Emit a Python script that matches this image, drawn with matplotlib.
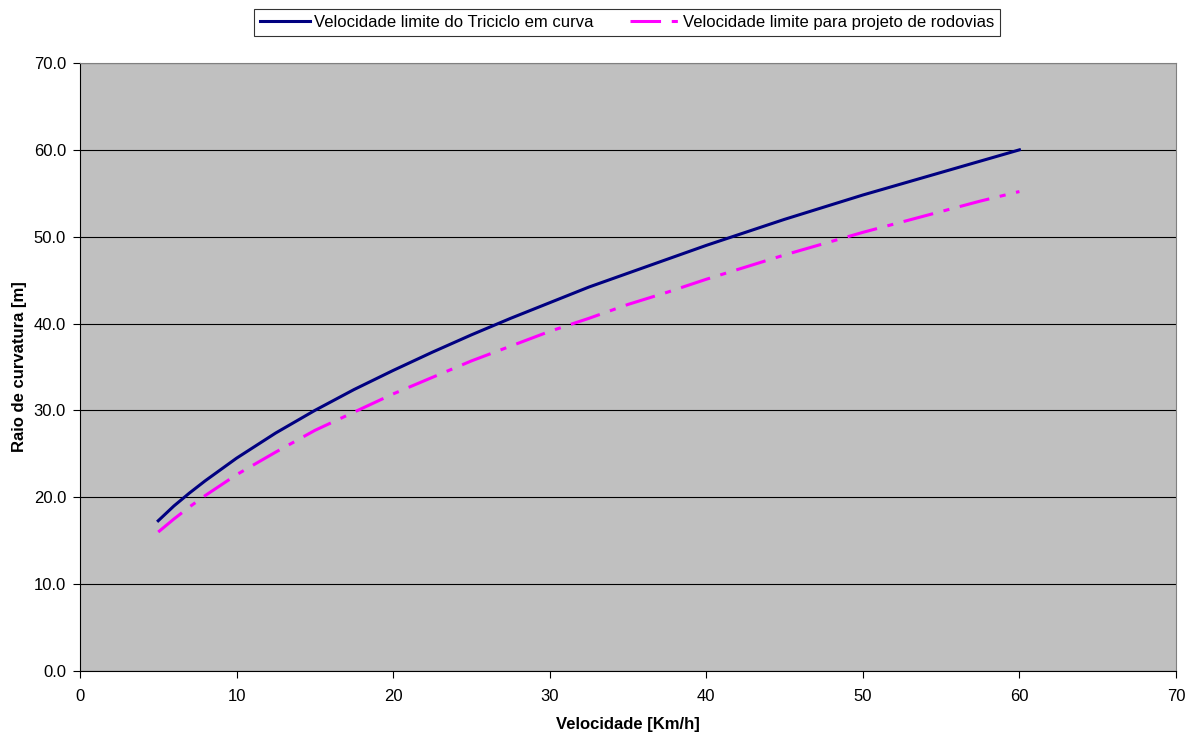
import matplotlib
matplotlib.use("Agg")
import matplotlib.pyplot as plt

plt.rcParams['font.family'] = ['Liberation Sans', 'DejaVu Sans']

velocidade = [5, 6, 7, 8, 9, 10, 12.5, 15, 17.5, 20, 22.5, 25, 27.5, 30, 32.5, 35,
              37.5, 40, 42.5, 45, 47.5, 50, 52.5, 55, 57.5, 60]
raio_triciclo = [17.3, 19.0, 20.5, 21.9, 23.2, 24.5, 27.4, 30.0, 32.4, 34.6, 36.7, 38.7,
                 40.6, 42.4, 44.2, 45.8, 47.4, 49.0, 50.5, 52.0, 53.4, 54.8, 56.1, 57.4,
                 58.7, 60.0]
raio_rodovias = [16.0, 17.5, 18.9, 20.2, 21.4, 22.6, 25.2, 27.7, 29.8, 31.9, 33.8, 35.7,
                 37.4, 39.1, 40.6, 42.2, 43.6, 45.1, 46.5, 47.9, 49.2, 50.5, 51.7, 52.9,
                 54.1, 55.2]
label_triciclo = "Velocidade limite do Triciclo em curva"
label_rodovias = "Velocidade limite para projeto de rodovias"

fig = plt.figure(figsize=(11.95, 7.34), dpi=100)
ax = fig.add_axes([0.0669, 0.0858, 0.9172, 0.8284])
ax.set_facecolor('#C0C0C0')

ax.plot(velocidade, raio_triciclo, color='#000080', lw=2.2, label=label_triciclo, zorder=3)
ax.plot(velocidade, raio_rodovias, color='#FF00FF', lw=2.2, dashes=(10, 3.5, 2, 3.5),
        label=label_rodovias, zorder=3)

ax.set_xlim(0, 70)
ax.set_ylim(0, 70)
ax.set_xticks(range(0, 71, 10))
ax.set_yticks(range(0, 71, 10))
ax.set_yticklabels([f"{v:.1f}" for v in range(0, 71, 10)])
ax.yaxis.grid(True, color='black', lw=0.8)
ax.set_axisbelow(True)
ax.tick_params(labelsize=12, length=5, color='black')
ax.tick_params(axis='x', pad=8)
ax.tick_params(axis='y', pad=5)

for s in ['top', 'right']:
    ax.spines[s].set_color('#808080')
for s in ['left', 'bottom']:
    ax.spines[s].set_color('black')

ax.set_xlabel("Velocidade [Km/h]", fontsize=12, fontweight='bold', labelpad=9)
ax.set_ylabel("Raio de curvatura [m]", fontsize=12, fontweight='bold', labelpad=4.5)

leg = fig.legend(loc='center', bbox_to_anchor=(0.525, 0.9693), ncol=2, fontsize=12,
                 frameon=True, fancybox=False, edgecolor='black', handlelength=3.0,
                 handletextpad=0.2, columnspacing=2.2, borderpad=0.35)
leg.get_frame().set_linewidth(0.8)

fig.savefig("out.png", dpi=100)
